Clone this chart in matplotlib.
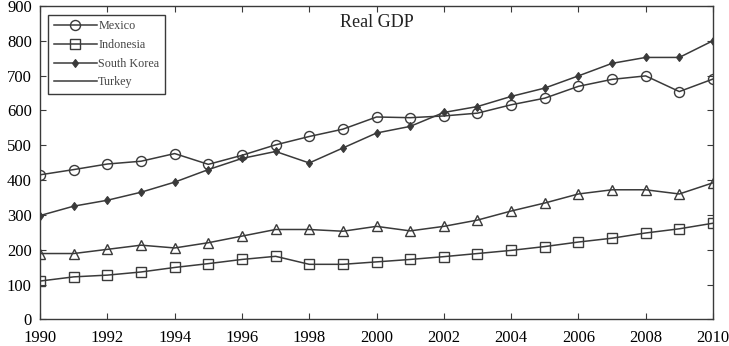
import matplotlib
matplotlib.use('Agg')
import matplotlib.pyplot as plt

# data
years = list(range(1990, 2011))
mexico = [415, 430, 446, 454, 476, 445, 471, 501, 525, 546, 581,
          579, 584, 592, 616, 635, 669, 689, 699, 654, 690]
indonesia = [110, 122, 127, 136, 149, 160, 172, 181, 158, 158, 165,
             172, 180, 189, 198, 209, 222, 233, 248, 260, 276]
south_korea = [298, 325, 342, 365, 394, 430, 462, 482, 449, 492, 535,
               554, 594, 611, 640, 664, 699, 735, 752, 752, 800]
turkey = [189, 189, 201, 213, 205, 220, 239, 258, 258, 253, 267,
          254, 267, 285, 311, 334, 360, 372, 372, 360, 392]

plt.rcParams['font.family'] = ['Liberation Serif', 'DejaVu Serif']
col = '#3a3a3a'

fig = plt.figure(figsize=(7.29, 3.46), dpi=100)
ax = fig.add_axes([0.055, 0.077, 0.923, 0.906])

ax.plot(years, mexico, '-o', color=col, lw=1.1, ms=7.2, mfc='none', mew=1.0, label='Mexico')
ax.plot(years, indonesia, '-s', color=col, lw=1.1, ms=6.5, mfc='none', mew=1.0, label='Indonesia')
ax.plot(years, south_korea, '-d', color=col, lw=1.1, ms=4.5, mfc=col, mew=0.8, label='South Korea')
ax.plot(years, turkey, '-', color=col, lw=1.1, label='Turkey')
# markers for Turkey (legend shows a plain line)
ax.plot(years, turkey, '^', color=col, ls='none', ms=7.5, mfc='none', mew=1.0)

ax.set_xlim(1990, 2010)
ax.set_ylim(0, 900)
ax.set_xticks(range(1990, 2011, 2))
ax.set_yticks(range(0, 901, 100))
ax.tick_params(direction='in', top=True, right=True, labelsize=12, length=4, color=col)
ax.tick_params(axis='x', pad=8)
ax.tick_params(axis='y', pad=6)
for s in ax.spines.values():
    s.set_color(col)
    s.set_linewidth(1.0)

ax.text(0.5, 0.946, 'Real GDP', transform=ax.transAxes, ha='center', va='center', fontsize=13, color='#222222')

leg = ax.legend(loc='upper left', fontsize=8.7, handlelength=3.6, handletextpad=0.1,
                labelspacing=0.55, borderpad=0.45, fancybox=False, framealpha=1,
                bbox_to_anchor=(0.003, 0.99))
leg.get_frame().set_edgecolor(col)
leg.get_frame().set_linewidth(1.0)
for t in leg.get_texts():
    t.set_color('#444444')

fig.savefig('out.png', dpi=100)
